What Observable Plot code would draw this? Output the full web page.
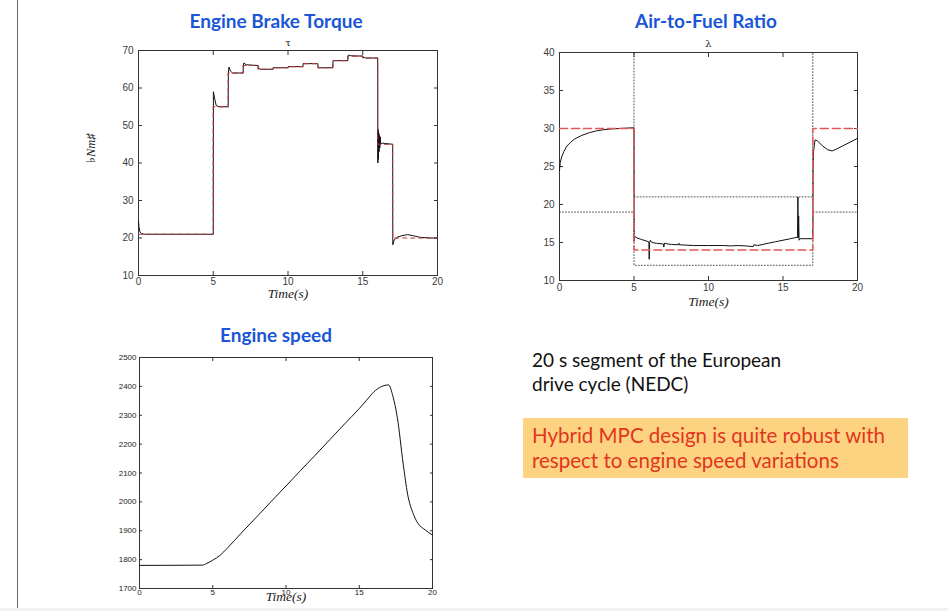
<!DOCTYPE html>
<html>
<head>
<meta charset="utf-8">
<script src="https://cdn.jsdelivr.net/npm/d3@7"></script>
<script src="https://cdn.jsdelivr.net/npm/@observablehq/plot@0.6"></script>
<style>
  body { margin: 0; background: #fff; }
  #page { position: relative; width: 948px; height: 611px; overflow: hidden; font-family: Lato, "Open Sans", sans-serif; }
  .title { position: absolute; color: #1a56d6; font-weight: bold; font-size: 19px; transform: translateX(-50%); white-space: nowrap; line-height: 1; }
  .chart { position: absolute; }
  #note { position: absolute; left: 532px; top: 348px; font-size: 19px; line-height: 24px; color: #111; }
  #callout { position: absolute; left: 523px; top: 418px; width: 385px; height: 60px; background: #fdd381; box-sizing: border-box; padding: 5px 0 0 9px; color: #e2351d; font-size: 20.5px; line-height: 25px; white-space: nowrap; }
  #edge { position: absolute; left: 17px; top: 0; width: 1px; height: 608px; background: #666; }
  #floor { position: absolute; left: 0; top: 608px; width: 948px; height: 3px; background: #f1f1f1; }
</style>
</head>
<body>
<div id="page">
  <div id="edge"></div>
  <div id="floor"></div>
  <div class="title" style="left:276px; top:11px;">Engine Brake Torque</div>
  <div class="title" style="left:706px; top:11px;">Air-to-Fuel Ratio</div>
  <div class="title" style="left:276px; top:325px;">Engine speed</div>
  <div class="chart" id="torque" style="left:80px; top:30px;"></div>
  <div class="chart" id="afr" style="left:500px; top:30px;"></div>
  <div class="chart" id="speed" style="left:80px; top:340px;"></div>
  <div id="note">20 s segment of the European<br>drive cycle (NEDC)</div>
  <div id="callout">Hybrid MPC design is quite robust with<br>respect to engine speed variations</div>
</div>
<script>
// ---- Engine brake torque [Nm] ----
const torqueRefT = [0, 5, 6, 7, 8, 9, 10, 11, 12, 13, 14, 15, 16, 17, 20];
const torqueRefV = [21, 55, 64, 66, 65, 65.4, 65.7, 66.5, 65.4, 67.3, 68.5, 68, 45, 20, 20];
const torqueT = [0, 0.03, 0.1, 0.2, 0.4, 4.99, 5.0, 5.01, 5.1, 5.2, 5.4, 5.99, 6.0, 6.01, 6.05, 6.15, 6.3, 6.99, 7.0, 7.01, 7.05, 7.2, 7.99, 8.0, 8.01, 8.2, 8.99, 9.0, 9.01, 9.99, 10.0, 10.01, 10.99, 11.0, 11.01, 11.99, 12.0, 12.01, 12.99, 13.0, 13.01, 13.99, 14.0, 14.01, 14.05, 14.2, 14.99, 15.0, 15.01, 15.2, 15.99, 16.0, 16.01, 16.03, 16.05, 16.07, 16.09, 16.11, 16.14, 16.17, 16.2, 16.3, 16.99, 17.0, 17.01, 17.1, 17.3, 17.6, 18.0, 18.4, 18.8, 19.5, 20];
const torqueV = [24.5, 23, 21.6, 21.2, 21, 21, 21, 59, 57, 55.3, 55, 55, 55, 64, 65.6, 64.5, 64, 64, 64, 66, 66.7, 66.2, 66, 66, 65.2, 65, 65, 65, 65.4, 65.4, 65.4, 65.7, 65.7, 65.7, 66.5, 66.5, 66.5, 65.4, 65.4, 65.4, 67.3, 67.3, 67.3, 68.5, 68.8, 68.6, 68.5, 68.5, 68.2, 68, 68, 68, 40, 49, 41, 48, 43, 47.5, 44, 47, 45, 45.3, 45, 45, 18.2, 19.5, 20.2, 20.6, 20.9, 20.6, 20.2, 20, 20];

// ---- Air-to-fuel ratio λ ----
const afrRefT = [0, 5, 17, 20];
const afrRefV = [30, 14, 30, 30];
const afrUpperT = [0, 5, 17, 20];
const afrUpperV = [40, 21, 40, 40];
const afrLowerT = [0, 5, 17, 20];
const afrLowerV = [19, 12, 19, 19];
const afrT = [0, 0.05, 0.15, 0.3, 0.5, 0.75, 1, 1.5, 2, 2.5, 3, 3.5, 4, 4.99, 5.0, 5.01, 5.05, 5.2, 5.5, 5.98, 6.0, 6.02, 6.05, 6.1, 6.2, 6.5, 6.98, 7.0, 7.05, 7.3, 7.5, 8.0, 8.02, 8.05, 9, 10, 11, 11.5, 12, 12.5, 13, 13.05, 13.3, 14, 14.5, 15, 15.5, 15.98, 16.0, 16.02, 16.05, 16.08, 16.15, 16.99, 17.0, 17.02, 17.05, 17.15, 17.3, 17.6, 18.0, 18.3, 18.6, 19, 19.5, 20];
const afrV = [24.5, 25.5, 26.3, 27, 27.7, 28.2, 28.6, 29.1, 29.45, 29.7, 29.85, 29.95, 30, 30.1, 30.1, 15.2, 15.8, 15.6, 15.4, 15.1, 14.9, 12.8, 15.0, 15.3, 15.0, 14.9, 14.8, 14.4, 14.9, 14.8, 14.75, 14.7, 14.9, 14.7, 14.6, 14.6, 14.6, 14.55, 14.6, 14.55, 14.45, 14.7, 14.6, 14.9, 15.1, 15.3, 15.5, 15.7, 21, 15.6, 18.5, 15.3, 15.5, 15.5, 15.5, 25.5, 27, 28.5, 28.4, 27.8, 27.2, 27.05, 27.3, 27.7, 28.2, 28.7];

// ---- Engine speed [rpm] ----
const speedT = [0, 4.3, 4.6, 5, 5.5, 6, 7, 8, 9, 10, 11, 12, 13, 14, 15, 15.5, 16, 16.5, 17, 17.3, 17.6, 18, 18.3, 18.7, 19, 19.5, 20];
const speedV = [1780, 1781, 1787, 1798, 1815, 1840, 1895, 1948, 2002, 2055, 2109, 2162, 2216, 2270, 2323, 2352, 2381, 2399, 2405, 2365, 2292, 2131, 2027, 1957, 1926, 1903, 1885];

// ---- Tick values ----
const timeTicks = [0, 5, 10, 15, 20];
const torqueTicks = [10, 20, 30, 40, 50, 60, 70];
const afrTicks = [10, 15, 20, 25, 30, 35, 40];
const speedTicks = [1700, 1800, 1900, 2000, 2100, 2200, 2300, 2400, 2500];

const zip = (ts, vs) => ts.map((t, i) => ({t, v: vs[i]}));
const plain = (d) => String(d);

// MATLAB-style box: frame plus inward ticks on all four sides
function boxAxes(xTicks, yTicks, {fontSize = 10, tick = 4, xPad = 2, yPad = 5} = {}) {
  const blank = () => "";
  return [
    Plot.frame({stroke: "#333"}),
    Plot.axisX(xTicks, {anchor: "bottom", tickSize: -tick, tickPadding: tick + xPad, tickFormat: plain, label: null, fontSize, stroke: "#333"}),
    Plot.axisX(xTicks, {anchor: "top", tickSize: -tick, tickFormat: blank, label: null, stroke: "#333"}),
    Plot.axisY(yTicks, {anchor: "left", tickSize: -tick, tickPadding: tick + yPad, tickFormat: plain, label: null, fontSize, stroke: "#333"}),
    Plot.axisY(yTicks, {anchor: "right", tickSize: -tick, tickFormat: blank, label: null, stroke: "#333"})
  ];
}

const axisStyle = {fontFamily: "'Liberation Sans', Arial, sans-serif", fontSize: "10px", color: "#3a3a3a", background: "transparent", overflow: "visible"};
const latex = {fontFamily: "'Liberation Serif', 'DejaVu Serif', serif", fontStyle: "italic", fill: "#222"};

const torquePlot = Plot.plot({
  width: 380, height: 280,
  marginLeft: 58, marginRight: 23, marginTop: 20, marginBottom: 35,
  x: {domain: [0, 20]},
  y: {domain: [10, 70]},
  style: axisStyle,
  marks: [
    ...boxAxes(timeTicks, torqueTicks),
    Plot.line(zip(torqueT, torqueV), {x: "t", y: "v", stroke: "#111", strokeWidth: 1}),
    Plot.line(zip(torqueRefT, torqueRefV), {x: "t", y: "v", curve: "step-after", stroke: "#b8343a", strokeWidth: 1.1, strokeDasharray: "4,4"}),
    Plot.text(["τ"], {frameAnchor: "top", dy: -12, fontSize: 10, fill: "#222", fontFamily: "'DejaVu Serif', serif"}),
    Plot.text(["Time(s)"], {frameAnchor: "bottom", dy: 22, fontSize: 13.5, ...latex}),
    Plot.text(["♭Nm♯"], {frameAnchor: "left", dx: -48, rotate: -90, fontSize: 12.5, ...latex})
  ]
});
document.getElementById("torque").append(torquePlot);

const afrPlot = Plot.plot({
  width: 380, height: 285,
  marginLeft: 59, marginRight: 23, marginTop: 22, marginBottom: 35,
  x: {domain: [0, 20]},
  y: {domain: [10, 40]},
  style: axisStyle,
  marks: [
    Plot.line(zip(afrUpperT, afrUpperV), {x: "t", y: "v", curve: "step-after", stroke: "#555", strokeWidth: 1, strokeDasharray: "1,2"}),
    Plot.line(zip(afrLowerT, afrLowerV), {x: "t", y: "v", curve: "step-after", stroke: "#555", strokeWidth: 1, strokeDasharray: "1,2"}),
    ...boxAxes(timeTicks, afrTicks, {xPad: 3}),
    Plot.line(zip(afrT, afrV), {x: "t", y: "v", stroke: "#111", strokeWidth: 1}),
    Plot.line(zip(afrRefT, afrRefV), {x: "t", y: "v", curve: "step-after", stroke: "#e0585a", strokeWidth: 1.5, strokeDasharray: "8,4"}),
    Plot.text(["λ"], {frameAnchor: "top", dy: -13, fontSize: 10, fill: "#222", fontFamily: "'DejaVu Serif', serif"}),
    Plot.text(["Time(s)"], {frameAnchor: "bottom", dy: 25, fontSize: 13.5, ...latex})
  ]
});
document.getElementById("afr").append(afrPlot);

const speedPlot = Plot.plot({
  width: 375, height: 271,
  marginLeft: 59, marginRight: 23, marginTop: 17, marginBottom: 23,
  x: {domain: [0, 20]},
  y: {domain: [1700, 2500]},
  style: {...axisStyle, fontSize: "8px", color: "#222"},
  marks: [
    ...boxAxes(timeTicks, speedTicks, {fontSize: 8, tick: 3, xPad: 1, yPad: 3}),
    Plot.line(zip(speedT, speedV), {x: "t", y: "v", curve: "monotone-x", stroke: "#111", strokeWidth: 1}),
    Plot.text(["Time(s)"], {frameAnchor: "bottom", dy: 12, fontSize: 13.5, ...latex})
  ]
});
document.getElementById("speed").append(speedPlot);
</script>
</body>
</html>
